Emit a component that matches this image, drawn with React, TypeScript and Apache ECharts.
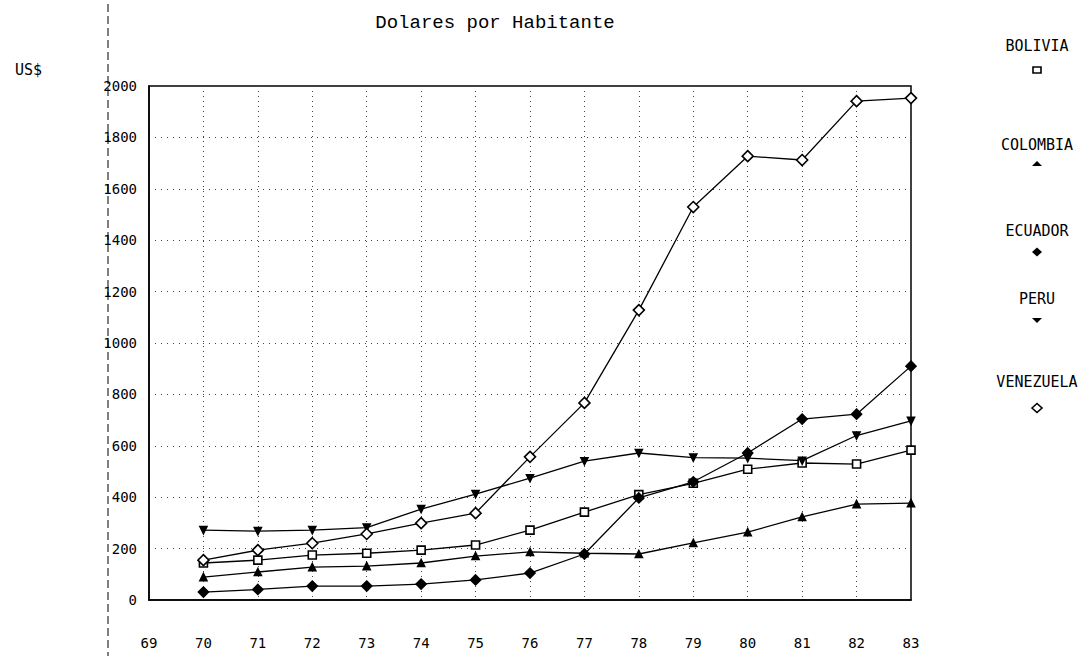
import React, { useEffect, useRef } from "react";
import * as echarts from "echarts";

const years = [70, 71, 72, 73, 74, 75, 76, 77, 78, 79, 80, 81, 82, 83];
const bolivia = [144, 155, 175, 182, 194, 214, 272, 342, 410, 454, 509, 533, 529, 583];
const colombia = [89, 109, 128, 132, 144, 171, 187, 182, 179, 222, 264, 323, 373, 377];
const ecuador = [31, 41, 54, 54, 62, 78, 105, 179, 397, 460, 572, 704, 723, 910];
const peru = [272, 268, 272, 282, 354, 412, 474, 540, 572, 554, 552, 542, 640, 697];
const venezuela = [155, 194, 221, 257, 299, 338, 557, 767, 1128, 1529, 1727, 1712, 1941, 1953];

const seriesNames = ["BOLIVIA", "COLOMBIA", "ECUADOR", "PERU", "VENEZUELA"];
const titleText = "Dolares por Habitante";
const unitText = "US$";

const MONO = "'DejaVu Sans Mono', 'Liberation Mono', monospace";

export default function App() {
  const ref = useRef<HTMLDivElement>(null);

  useEffect(() => {
    if (!ref.current) return;
    const chart = echarts.init(ref.current, null, { renderer: "svg" });

    const pts = (vals: number[]) => years.map((y, i) => [y, vals[i]]);
    const mk = (
      name: string,
      vals: number[],
      symbol: string,
      size: number,
      filled: boolean,
      rotate = 0
    ) => ({
      name,
      type: "line",
      data: pts(vals),
      symbol,
      symbolSize: size,
      symbolRotate: rotate,
      showAllSymbol: true,
      lineStyle: { color: "#000", width: 1.3 },
      itemStyle: {
        color: filled ? "#000" : "#fff",
        borderColor: "#000",
        borderWidth: 1.6,
      },
      z: 3,
    });

    const legendY = [46, 145, 231, 299, 382];
    const markerY = [70, 164, 252, 320, 408];
    const lx = 1037;

    const legendGraphics: any[] = [];
    seriesNames.forEach((n, i) => {
      legendGraphics.push({
        type: "text",
        x: lx,
        y: legendY[i],
        style: {
          text: n,
          font: `15px ${MONO}`,
          fill: "#000",
          align: "center",
          verticalAlign: "middle",
        },
      });
    });
    const my = markerY;
    legendGraphics.push(
      { type: "rect", shape: { x: lx - 4, y: my[0] - 3, width: 8, height: 6 }, style: { fill: "#fff", stroke: "#000", lineWidth: 1.6 } },
      { type: "polygon", shape: { points: [[lx - 5, my[1] + 2], [lx + 5, my[1] + 2], [lx, my[1] - 3]] }, style: { fill: "#000" } },
      { type: "polygon", shape: { points: [[lx - 5, my[2]], [lx, my[2] - 4.5], [lx + 5, my[2]], [lx, my[2] + 4.5]] }, style: { fill: "#000" } },
      { type: "polygon", shape: { points: [[lx - 5, my[3] - 2], [lx + 5, my[3] - 2], [lx, my[3] + 3]] }, style: { fill: "#000" } },
      { type: "polygon", shape: { points: [[lx - 5, my[4]], [lx, my[4] - 4.5], [lx + 5, my[4]], [lx, my[4] + 4.5]] }, style: { fill: "#fff", stroke: "#000", lineWidth: 1.6 } }
    );

    const option: any = {
      animation: false,
      backgroundColor: "#fff",
      title: {
        text: titleText,
        left: 490,
        top: 8,
        textAlign: "center",
        textStyle: {
          fontFamily: "'Liberation Mono', monospace",
          fontSize: 19,
          fontWeight: "normal",
          color: "#000",
        },
      },
      grid: {
        left: 149,
        right: 175,
        top: 86,
        bottom: 56,
        show: true,
        borderColor: "#000",
        borderWidth: 1.5,
        backgroundColor: "transparent",
      },
      xAxis: {
        type: "value",
        min: 69,
        max: 83,
        interval: 1,
        axisLine: { show: true, lineStyle: { color: "#000", width: 1.5 } },
        axisTick: { show: false },
        axisLabel: {
          margin: 36,
          color: "#000",
          fontFamily: MONO,
          fontSize: 14,
          formatter: (v: number) => String(v),
        },
        splitLine: {
          show: true,
          lineStyle: { color: "#444", width: 1, type: [1, 4] },
        },
      },
      yAxis: {
        type: "value",
        min: 0,
        max: 2000,
        interval: 200,
        axisLine: { show: true, lineStyle: { color: "#000", width: 1.5 } },
        axisTick: { show: false },
        axisLabel: {
          margin: 12,
          color: "#000",
          fontFamily: MONO,
          fontSize: 14,
          formatter: (v: number) => String(v),
        },
        splitLine: {
          show: true,
          lineStyle: { color: "#444", width: 1, type: [1, 5] },
        },
      },
      series: [
        mk("BOLIVIA", bolivia, "rect", 8, false),
        mk("COLOMBIA", colombia, "triangle", 7, true),
        mk("ECUADOR", ecuador, "diamond", 10, true),
        mk("PERU", peru, "triangle", 7, true, 180),
        mk("VENEZUELA", venezuela, "diamond", 11, false),
      ],
      graphic: [
        {
          type: "line",
          shape: { x1: 108, y1: 4, x2: 108, y2: 656 },
          style: { stroke: "#000", lineWidth: 1, lineDash: [8, 4] },
        },
        {
          type: "text",
          x: 15,
          y: 70,
          style: {
            text: unitText,
            font: `15px ${MONO}`,
            fill: "#000",
            verticalAlign: "middle",
          },
        },
        ...legendGraphics,
      ],
    };

    chart.setOption(option);
    return () => chart.dispose();
  }, []);

  return (
    <div
      ref={ref}
      style={{ position: "fixed", left: 0, top: 0, width: 1086, height: 656, background: "#fff" }}
    />
  );
}
